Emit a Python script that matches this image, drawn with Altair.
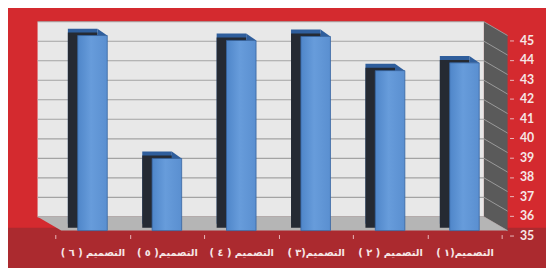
import altair as alt
import pandas as pd

# ---- data ----
categories = ["التصميم ( ٦ )", "التصميم( ٥ )", "التصميم ( ٤ )", "التصميم(٣ )", "التصميم ( ٢ )", "التصميم(١ )"]
values = [45.0, 38.7, 44.75, 44.95, 43.2, 43.6]
tick_values = [35, 36, 37, 38, 39, 40, 41, 42, 43, 44, 45]

df = pd.DataFrame({"cat": categories, "value": values})
ticks_df = pd.DataFrame({"v": tick_values})
one = pd.DataFrame({"a": [0]})

W, H = 453, 198
RED = "#d42a2f"
DARK_RED = "#ab2a2f"
TOP = "#2f5e9c"
SIDE = "#252a33"

yscale = alt.Scale(domain=[35, 45], zero=False, nice=False)
xscale = alt.Scale(paddingInner=0, paddingOuter=0)

xaxis = alt.Axis(labelAngle=0, domain=False, tickBand="extent", tickOffset=8,
                 tickSize=4, offset=4, tickColor="#e9b9bb", labelPadding=9,
                 labelFont="DejaVu Sans", labelFontWeight="bold", labelFontSize=10,
                 labelColor="#f6e6e6", title=None, zindex=2)
yaxis = alt.Axis(orient="right", values=tick_values, grid=False, domain=False,
                 offset=8, tickSize=4, tickColor="#e9b9bb", tickOffset=5,
                 labelPadding=6, labelFont="Lato", labelFontWeight="bold",
                 labelFontSize=12.5, labelColor="#f6e6e6", title=None, zindex=2)

def X():
    return alt.X("cat:N", sort=categories, scale=xscale, axis=xaxis, title=None)

def Yv(field="value:Q"):
    return alt.Y(field, scale=yscale, axis=yaxis, title=None)

# decorations (3D frame)
band = alt.Chart(one).mark_rect(color=DARK_RED).encode(
    x=alt.value(-48), x2=alt.value(498), y=alt.value(195), y2=alt.value(240))
back_wall = alt.Chart(one).mark_rect(color="#e8e8e8").encode(
    x=alt.value(-18), x2=alt.value(435), y=alt.value(-14), y2=alt.value(184))
grid = alt.Chart(ticks_df).mark_rule(color="#a3a3a3", strokeWidth=1.2, yOffset=-14).encode(
    y=Yv("v:Q"), x=alt.value(-18), x2=alt.value(435))
side_wall = alt.Chart(one).mark_point(
    shape="M 435 -14 L 459 0 L 459 198 L 435 184 Z", size=4, filled=True,
    color="#5a5a5a", opacity=1, strokeWidth=0).encode(x=alt.value(0), y=alt.value(0))
side_lines = alt.Chart(ticks_df).mark_rule(color="#9a9a9a", strokeWidth=1, yOffset=-14, y2Offset=0).encode(
    y=Yv("v:Q"), y2=alt.Y2("v"), x=alt.value(435), x2=alt.value(459))
floor = alt.Chart(one).mark_point(
    shape="M -18 184 L 435 184 L 459 198 L 6 198 Z", size=4, filled=True,
    color="#b5b5b5", opacity=1, strokeWidth=0).encode(x=alt.value(0), y=alt.value(0))

back_bar = alt.Chart(df).mark_bar(width=30, color=TOP, xOffset=-10, yOffset=-7, y2Offset=-7).encode(
    x=X(), y=Yv(), y2=alt.datum(35))
side_bar = alt.Chart(df).mark_bar(width=30, color=SIDE, xOffset=-10, yOffset=-3, y2Offset=-3).encode(
    x=X(), y=Yv(), y2=alt.datum(35))

front_fill = alt.Gradient(
    gradient="linear",
    stops=[alt.GradientStop(color="#4f86c9", offset=0),
           alt.GradientStop(color="#679cdb", offset=0.45),
           alt.GradientStop(color="#5a8fd0", offset=1)],
    x1=0, x2=1, y1=0, y2=0)

front_bar = alt.Chart(df).mark_bar(width=30, color=front_fill, stroke="#35649f", strokeWidth=0.8).encode(
    x=X(), y=Yv(), y2=alt.datum(35))

corner = alt.Chart(df).mark_point(
    shape="M -1 -0.7 L 0 0 L -1 0 Z", size=400, filled=True, color=TOP,
    opacity=1, strokeWidth=0, xOffset=15).encode(x=X(), y=Yv())

chart = alt.layer(
    band, back_wall, grid, side_wall, side_lines, floor,
    back_bar, side_bar, front_bar, corner
).properties(
    width=W, height=H,
    autosize=alt.AutoSizeParams(type="none"),
    padding={"left": 48, "top": 26, "right": 45, "bottom": 36},
    background=RED,
).configure_view(stroke=None)

chart.save("out.html", embed_options={"renderer": "svg", "actions": False})
